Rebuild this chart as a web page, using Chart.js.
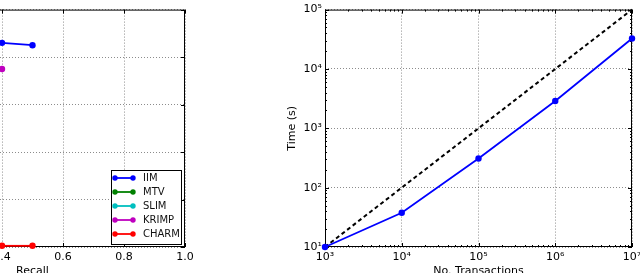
<!DOCTYPE html>
<html>
<head>
<meta charset="utf-8">
<script src="https://cdn.jsdelivr.net/npm/chart.js@4"></script>
<style>
  html, body { margin: 0; padding: 0; background: #fff; overflow: hidden; width: 640px; height: 273px; }
  #left { position: absolute; left: -170px; top: 0; }
  #right { position: absolute; left: 280px; top: 0; }
</style>
</head>
<body>
<canvas id="left" width="370" height="280"></canvas>
<canvas id="right" width="380" height="280"></canvas>
<script>
// Left panel: precision vs recall (only the right part is visible)
const methods = ['IIM', 'MTV', 'SLIM', 'KRIMP', 'CHARM'];
const methodColors = ['#0000ff', '#008000', '#00bfbf', '#bf00bf', '#ff0000'];
const iimRecall = [0.4, 0.5];
const iimPrecision = [0.86, 0.85];
const mtvRecall = [];
const mtvPrecision = [];
const slimRecall = [];
const slimPrecision = [];
const krimpRecall = [0.4];
const krimpPrecision = [0.75];
const charmRecall = [0.4, 0.5];
const charmPrecision = [0.005, 0.005];
const recallTicks = [0, 0.2, 0.4, 0.6, 0.8, 1.0];
const precisionTicks = [0, 0.2, 0.4, 0.6, 0.8, 1.0];

// Right panel: run time vs number of transactions
const transactions = [1e3, 1e4, 1e5, 1e6, 1e7];
const iimTimes = [10, 37.7, 310, 2880, 32600];
const refTransactions = [1e3, 1e7];
const refTimes = [10, 1e5];
const transactionTicks = [1e3, 1e4, 1e5, 1e6, 1e7];
const timeTicks = [1e1, 1e2, 1e3, 1e4, 1e5];

Chart.defaults.font.family = 'DejaVu Sans';
Chart.defaults.font.size = 11;
Chart.defaults.color = '#000';

const sup = { '0': '⁰', '1': '¹', '2': '²', '3': '³', '4': '⁴', '5': '⁵', '6': '⁶', '7': '⁷', '8': '⁸', '9': '⁹' };
const pow10 = v => '10' + String(Math.round(Math.log10(v))).split('').map(d => sup[d]).join('');

const zip = (xs, ys) => xs.map((x, i) => ({ x: x, y: ys[i] }));

// matplotlib-like frame with inward ticks
const framePlugin = {
    id: 'frame',
    beforeDatasetsDraw(chart) {
        const ctx = chart.ctx;
        const { left, right, top, bottom } = chart.chartArea;
        ctx.save();
        ctx.strokeStyle = '#000';
        ctx.lineWidth = 1;
        ctx.strokeRect(left + 0.5, top + 0.5, right - left - 1, bottom - top - 1);
        const tick = (x1, y1, x2, y2) => { ctx.moveTo(x1, y1); ctx.lineTo(x2, y2); };
        ctx.beginPath();
        for (const id of ['x', 'y']) {
            const s = chart.scales[id];
            const vals = s.ticks.map(t => ({ v: t.value, len: 4 }));
            if (s.type === 'logarithmic') {
                for (let d = s.min; d < s.max; d *= 10) {
                    for (let k = 2; k < 10; k++) vals.push({ v: d * k, len: 2 });
                }
            }
            vals.forEach(({ v, len }) => {
                const p = Math.round(s.getPixelForValue(v)) + 0.5;
                if (id === 'x') {
                    tick(p, bottom, p, bottom - len);
                    tick(p, top, p, top + len);
                } else {
                    tick(left, p, left + len, p);
                    tick(right, p, right - len, p);
                }
            });
        }
        ctx.stroke();
        ctx.restore();
    }
};

// legend box in the lower right corner of the left panel
const boxLegend = {
    id: 'boxLegend',
    afterDraw(chart) {
        const ctx = chart.ctx;
        const a = chart.chartArea;
        const x0 = a.right - 74, y0 = a.bottom - 77;
        ctx.save();
        ctx.fillStyle = '#fff';
        ctx.fillRect(x0, y0, 70, 74);
        ctx.strokeStyle = '#000';
        ctx.lineWidth = 1;
        ctx.strokeRect(x0 + 0.5, y0 + 0.5, 70, 74);
        ctx.font = '10px "DejaVu Sans"';
        ctx.textBaseline = 'middle';
        chart.data.datasets.forEach((ds, i) => {
            const y = y0 + 8 + i * 14;
            ctx.strokeStyle = ds.borderColor;
            ctx.fillStyle = ds.borderColor;
            ctx.lineWidth = 1.8;
            ctx.beginPath();
            ctx.moveTo(x0 + 4, y);
            ctx.lineTo(x0 + 22, y);
            ctx.stroke();
            [x0 + 4, x0 + 22].forEach(x => {
                ctx.beginPath();
                ctx.arc(x, y, 2.7, 0, Math.PI * 2);
                ctx.fill();
            });
            ctx.fillStyle = '#111';
            ctx.fillText(ds.label, x0 + 32, y + 0.5);
        });
        ctx.restore();
    }
};

const gridStyle = { color: 'rgba(0,0,0,0.45)', drawTicks: false, lineWidth: 1 };
const borderStyle = { display: false, dash: [1, 2] };

new Chart(document.getElementById('left'), {
    type: 'line',
    data: {
        datasets: methods.map((m, i) => ({
            label: m,
            data: zip([iimRecall, mtvRecall, slimRecall, krimpRecall, charmRecall][i],
                      [iimPrecision, mtvPrecision, slimPrecision, krimpPrecision, charmPrecision][i]),
            borderColor: methodColors[i],
            backgroundColor: methodColors[i],
            borderWidth: 1.8,
            pointRadius: 3.2,
            pointBorderWidth: 0,
            clip: false
        }))
    },
    options: {
        responsive: false,
        animation: false,
        events: [],
        layout: { padding: { left: 0, right: 15, top: 9, bottom: 0 } },
        plugins: { legend: { display: false }, tooltip: { enabled: false } },
        scales: {
            x: {
                type: 'linear', min: 0, max: 1,
                afterFit: s => { s.height = 33; },
                afterBuildTicks: s => { s.ticks = recallTicks.map(v => ({ value: v })); },
                ticks: { padding: 4, callback: v => v.toFixed(1) },
                grid: gridStyle, border: borderStyle,
                title: { display: true, text: 'Recall', padding: { top: 0, bottom: 2 } }
            },
            y: {
                type: 'linear', min: 0, max: 1,
                afterFit: s => { s.width = 50; },
                afterBuildTicks: s => { s.ticks = precisionTicks.map(v => ({ value: v })); },
                ticks: { padding: 3, callback: v => v.toFixed(1) },
                grid: gridStyle, border: borderStyle
            }
        }
    },
    plugins: [framePlugin, boxLegend]
});

new Chart(document.getElementById('right'), {
    type: 'line',
    data: {
        datasets: [
            {
                label: 'IIM',
                data: zip(transactions, iimTimes),
                borderColor: '#0000ff',
                backgroundColor: '#0000ff',
                borderWidth: 1.8,
                pointRadius: 3.2,
                pointBorderWidth: 0,
                clip: false
            },
            {
                label: 'linear',
                data: zip(refTransactions, refTimes),
                borderColor: '#000',
                borderWidth: 2,
                borderDash: [4, 3],
                pointRadius: 0,
                clip: false
            }
        ]
    },
    options: {
        responsive: false,
        animation: false,
        events: [],
        layout: { padding: { left: 0, right: 28, top: 9, bottom: 0 } },
        plugins: { legend: { display: false }, tooltip: { enabled: false } },
        scales: {
            x: {
                type: 'logarithmic', min: 1e3, max: 1e7,
                afterFit: s => { s.height = 33; },
                afterBuildTicks: s => { s.ticks = transactionTicks.map(v => ({ value: v })); },
                ticks: { padding: 4, autoSkip: false, maxRotation: 0, callback: v => pow10(v) },
                grid: gridStyle, border: borderStyle,
                title: { display: true, text: 'No. Transactions', padding: { top: 0, bottom: 2 } }
            },
            y: {
                type: 'logarithmic', min: 1e1, max: 1e5,
                afterFit: s => { s.width = 45; },
                afterBuildTicks: s => { s.ticks = timeTicks.map(v => ({ value: v })); },
                ticks: { padding: 3, autoSkip: false, callback: v => pow10(v) },
                grid: gridStyle, border: borderStyle,
                title: { display: true, text: 'Time (s)', padding: { top: 6, bottom: 0 } }
            }
        }
    },
    plugins: [framePlugin]
});
</script>
</body>
</html>
